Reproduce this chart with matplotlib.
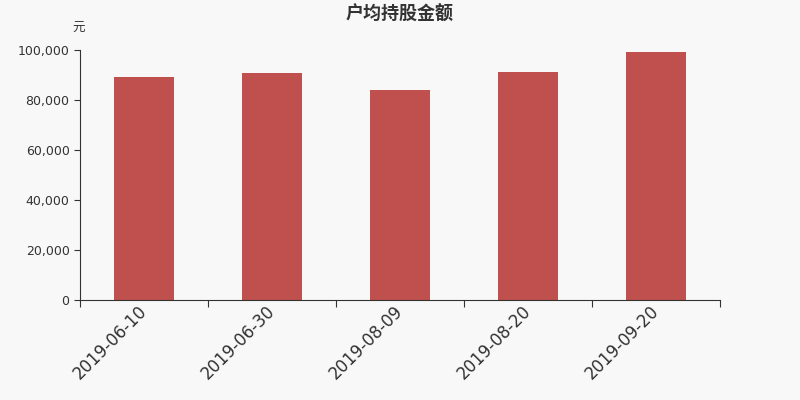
import matplotlib.pyplot as plt
import numpy as np
from matplotlib.ticker import FuncFormatter
import matplotlib.transforms as mtrans

plt.rcParams['font.family'] = ['DejaVu Sans', 'Noto Sans CJK SC']

# Data
dates = ["2019-06-10", "2019-06-30", "2019-08-09", "2019-08-20", "2019-09-20"]
amounts = [89200, 90800, 84000, 91200, 99200]

bg = "#f8f8f8"
fig = plt.figure(figsize=(8, 4), dpi=100, facecolor=bg)
ax = fig.add_axes([0.1, 0.25, 0.8, 0.625], facecolor=bg)

x = np.arange(len(dates))
ax.bar(x, amounts, width=0.47, color="#c0504d")

ax.set_xlim(-0.5, len(dates) - 0.5)
ax.set_ylim(0, 100000)
ax.set_yticks(np.arange(0, 100001, 20000))
ax.yaxis.set_major_formatter(FuncFormatter(lambda v, p: f"{int(v):,}"))

# x ticks at the category boundaries, labels at centres
ax.set_xticks(np.arange(-0.5, len(dates), 1.0))
ax.set_xticklabels([])
ax.set_xticks(x, minor=True)
ax.set_xticklabels(dates, minor=True, rotation=45, ha="right", va="center",
                   rotation_mode="anchor", fontsize=12, color="#333333")
shift = mtrans.ScaledTranslation(4 / 100, 0, fig.dpi_scale_trans)
for lab in ax.get_xticklabels(minor=True):
    lab.set_transform(lab.get_transform() + shift)
ax.tick_params(axis="x", which="minor", length=0, pad=6)
ax.tick_params(axis="x", which="major", length=5, color="#333333")
ax.tick_params(axis="y", length=4, color="#333333", labelsize=9,
               labelcolor="#333333")

for s in ["top", "right"]:
    ax.spines[s].set_visible(False)
for s in ["left", "bottom"]:
    ax.spines[s].set_color("#333333")

fig.text(0.5, 0.965, "户均持股金额", ha="center", va="center",
         fontsize=13, fontweight="bold", color="#333333",
         family="Noto Sans CJK SC")
fig.text(0.098, 0.93, "元", ha="center", va="center",
         fontsize=9, color="#333333", family="Noto Sans CJK SC")

fig.savefig("out.png", dpi=100, facecolor=bg)
